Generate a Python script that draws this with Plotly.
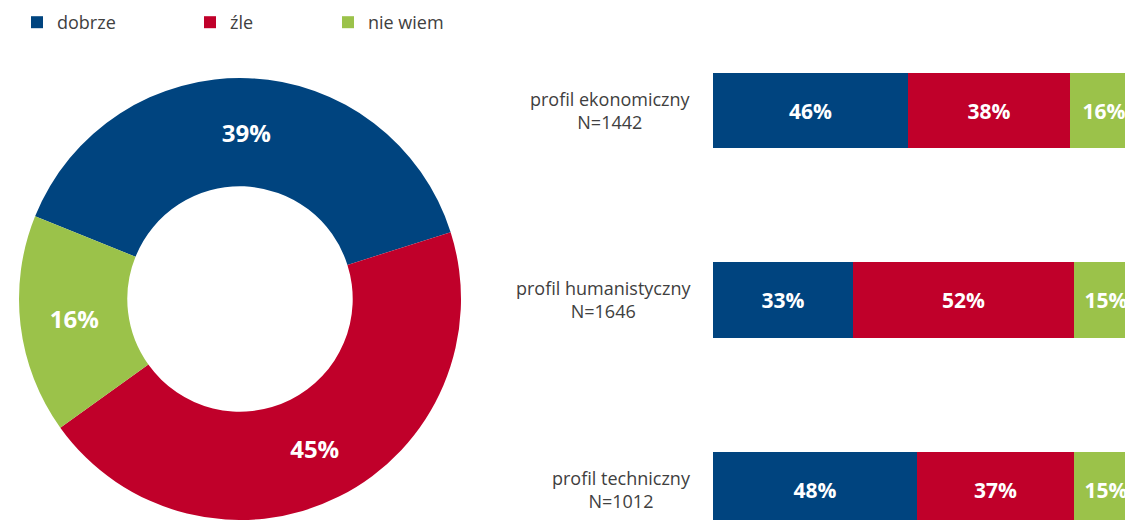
import plotly.graph_objects as go

# ---- data ----
answers = ["dobrze", "źle", "nie wiem"]
colors = ["#00447f", "#c0002a", "#9bc24a"]
overall = [39, 45, 16]

profiles = ["profil ekonomiczny", "profil humanistyczny", "profil techniczny"]
profile_n = ["N=1442", "N=1646", "N=1012"]
good = [46, 33, 48]
bad = [38, 52, 37]
dunno = [16, 15, 15]

series = [good, bad, dunno]
legend_ids = ["legend", "legend2", "legend3"]

W, H = 1125, 520
FONT = "Open Sans"

fig = go.Figure()

# donut
fig.add_trace(go.Pie(
    labels=answers,
    values=overall,
    marker=dict(colors=colors, line=dict(width=0)),
    hole=0.51,
    sort=False,
    direction="clockwise",
    rotation=-68,
    texttemplate="%{value}%",
    textposition="inside",
    insidetextorientation="horizontal",
    textfont=dict(family=FONT, size=24, color="white", weight="bold"),
    domain=dict(x=[19 / W, 461 / W], y=[0, 442 / H]),
    showlegend=False,
    hoverinfo="label+value",
))

# stacked bars
for name, vals, col, lg in zip(answers, series, colors, legend_ids):
    fig.add_trace(go.Bar(
        y=profiles,
        x=vals,
        name=name,
        orientation="h",
        marker=dict(color=col, line=dict(width=0)),
        width=0.396,
        text=[f"{v}%" for v in vals],
        textposition="inside",
        insidetextanchor="middle",
        textangle=0,
        constraintext="none",
        textfont=dict(family=FONT, size=21, color="white", weight="bold"),
        legend=lg,
        cliponaxis=True,
    ))

# category labels
for p, n in zip(profiles, profile_n):
    fig.add_annotation(
        x=693 / W, xref="paper", xanchor="right",
        y=p, yref="y", yanchor="middle",
        text=f"{p}<br>{n}", align="center", showarrow=False,
        font=dict(family=FONT, size=18, color="#404040"),
    )

legend_common = dict(
    orientation="h", yanchor="top", y=1 - 4 / H, xanchor="left",
    font=dict(family=FONT, size=18, color="#404040"),
    bgcolor="rgba(0,0,0,0)", borderwidth=0,
)

fig.update_layout(
    width=W, height=H,
    margin=dict(l=0, r=0, t=0, b=0),
    paper_bgcolor="white", plot_bgcolor="white",
    barmode="stack",
    bargap=0,
    xaxis=dict(domain=[713 / W, 1], range=[0, 97], visible=False, fixedrange=True),
    yaxis=dict(range=[2.161, -0.583], visible=False, fixedrange=True),
    legend=dict(x=(57 - 40) / W, **legend_common),
    legend2=dict(x=(230 - 40) / W, **legend_common),
    legend3=dict(x=(368 - 40) / W, **legend_common),
)

fig.write_html("out.html")
